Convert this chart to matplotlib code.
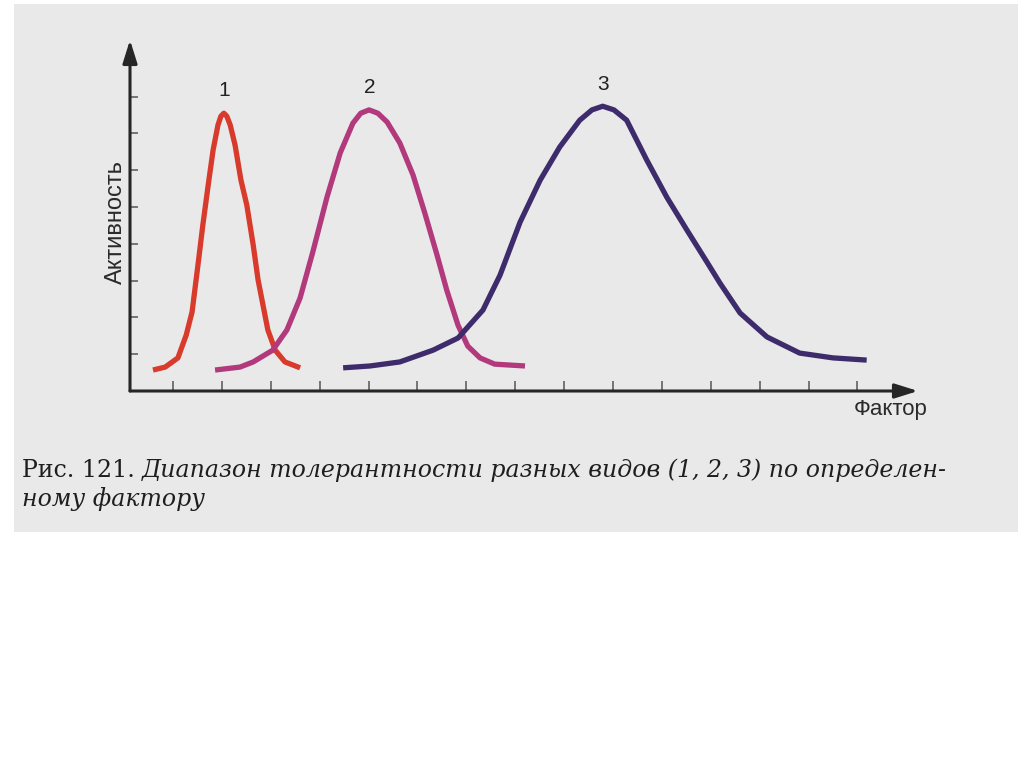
import matplotlib
matplotlib.use("Agg")
import matplotlib.pyplot as plt
from matplotlib.patches import Rectangle

# values: x in factor-tick units (ticks at 1..15), y in activity-tick units (ticks at 1..8)
x1 = [0.59, 0.84, 1.10, 1.27, 1.39, 1.51, 1.61, 1.72, 1.82, 1.92, 1.98, 2.04, 2.10, 2.17, 2.27, 2.39, 2.51, 2.64, 2.74, 2.84, 2.94, 3.09, 3.29, 3.60]
y1 = [0.57, 0.65, 0.90, 1.52, 2.15, 3.42, 4.51, 5.60, 6.55, 7.23, 7.47, 7.55, 7.47, 7.23, 6.68, 5.73, 5.05, 3.97, 3.02, 2.34, 1.66, 1.11, 0.79, 0.63]

x2 = [1.86, 2.37, 2.64, 3.04, 3.33, 3.60, 3.86, 4.15, 4.42, 4.68, 4.84, 5.01, 5.19, 5.38, 5.64, 5.91, 6.15, 6.40, 6.60, 6.83, 7.03, 7.28, 7.58, 8.20]
y2 = [0.57, 0.65, 0.79, 1.11, 1.66, 2.53, 3.78, 5.27, 6.47, 7.28, 7.55, 7.64, 7.55, 7.31, 6.74, 5.87, 4.84, 3.70, 2.74, 1.79, 1.22, 0.90, 0.73, 0.68]

x3 = [4.48, 5.03, 5.64, 6.32, 6.83, 7.34, 7.69, 8.10, 8.51, 8.91, 9.32, 9.57, 9.79, 10.02, 10.28, 10.69, 11.10, 11.51, 11.92, 12.19, 12.60, 13.15, 13.82, 14.50, 15.19]
y3 = [0.63, 0.68, 0.79, 1.11, 1.44, 2.20, 3.15, 4.59, 5.73, 6.63, 7.36, 7.64, 7.74, 7.64, 7.36, 6.28, 5.27, 4.38, 3.51, 2.93, 2.12, 1.47, 1.03, 0.90, 0.84]

curve_names = ["1", "2", "3"]
label_x = [2.05, 5.02, 9.79]
label_y = [8.18, 8.26, 8.34]
colors = ["#d83a2c", "#b2397c", "#3d2b6c"]

x_ticks = list(range(1, 16))
y_ticks = list(range(1, 9))

fig = plt.figure(figsize=(10.24, 7.67), dpi=100)
W, H = 1024, 767

# scanned page background
fig.patches.append(Rectangle((14 / W, 1 - 532 / H), 1004 / W, 528 / H,
                             transform=fig.transFigure, facecolor="#e9e9e9",
                             edgecolor="none", zorder=-3))

ax = fig.add_axes([130 / W, 1 - 391 / H, 788 / W, 351 / H])
ax.set_facecolor("none")
ax.set_xlim(0.12, 16.24)
ax.set_ylim(0, 9.54)
for s in ax.spines.values():
    s.set_visible(False)

for xs, ys, c in [(x1, y1, colors[0]), (x2, y2, colors[1]), (x3, y3, colors[2])]:
    ax.plot(xs, ys, color=c, lw=3.8, solid_capstyle="butt", solid_joinstyle="round", zorder=3)

for name, lx, ly in zip(curve_names, label_x, label_y):
    ax.text(lx, ly, name, fontsize=15, family="Liberation Sans", color="#222222",
            ha="center", va="center")

ax.set_xticks(x_ticks)
ax.set_yticks(y_ticks)
ax.tick_params(axis="x", direction="in", length=7, width=1.1, color="#555555", labelbottom=False)
ax.tick_params(axis="y", direction="in", length=6, width=1.1, color="#555555", labelleft=False)

arrow = dict(arrowstyle="-|>,head_length=0.7,head_width=0.22", lw=2.2, color="#262626",
             mutation_scale=20, shrinkA=0, shrinkB=0)
ax.annotate("", xy=(0, 1), xytext=(0, 0), xycoords="axes fraction", arrowprops=arrow)
ax.annotate("", xy=(1, 0), xytext=(0, 0), xycoords="axes fraction", arrowprops=arrow)

fig.text(116 / W, 1 - 222 / H, "Активность", rotation=90, fontsize=17,
         family="Liberation Sans", color="#2a2a2a", ha="center", va="center")
fig.text(891 / W, 1 - 410 / H, "Фактор", fontsize=16,
         family="Liberation Sans", color="#2a2a2a", ha="center", va="center")

# caption
t1 = fig.text(22 / W, 1 - 477 / H, "Рис. 121.", fontsize=17, family="DejaVu Serif",
              color="#1e1e1e", ha="left", va="baseline")
fig.canvas.draw()
bb = t1.get_window_extent()
fig.text(bb.x1 / W + 7 / W, 1 - 477 / H,
         "Диапазон толерантности разных видов (1, 2, 3) по определен-",
         fontsize=17, family="DejaVu Serif", style="italic", color="#1e1e1e",
         ha="left", va="baseline")
fig.text(22 / W, 1 - 506 / H, "ному фактору", fontsize=17, family="DejaVu Serif",
         style="italic", color="#1e1e1e", ha="left", va="baseline")

fig.savefig("out.png", dpi=100, facecolor="white")
